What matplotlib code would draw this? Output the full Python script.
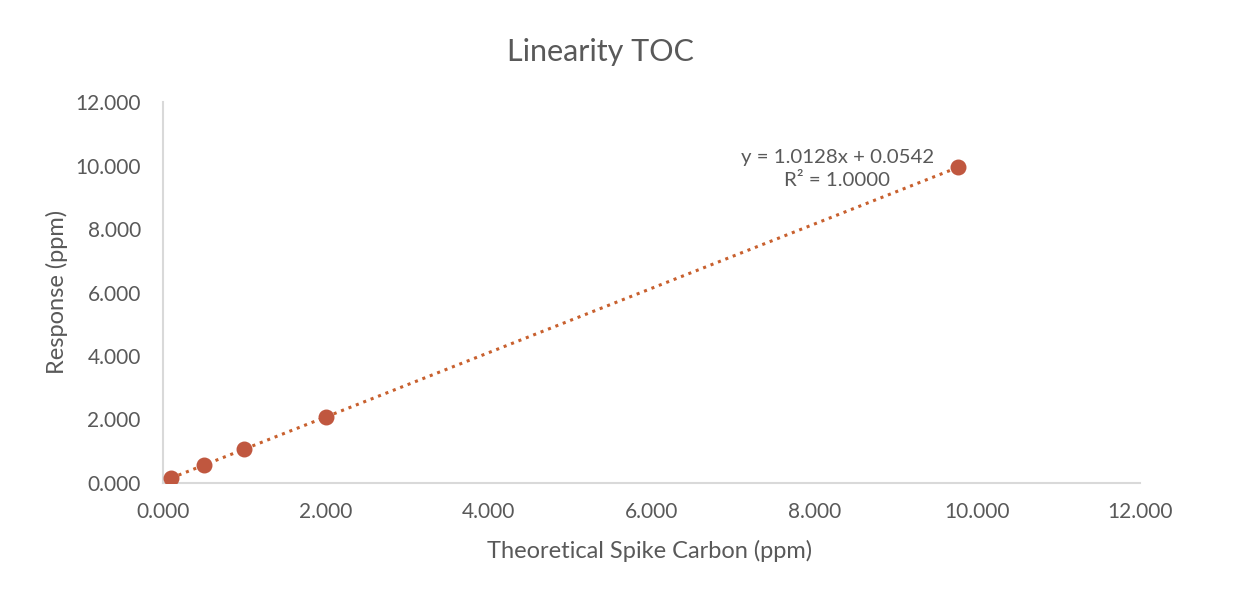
import numpy as np
import matplotlib
matplotlib.use("Agg")
import matplotlib.pyplot as plt
from matplotlib.ticker import FormatStrFormatter

# data
spike_carbon = [0.1, 0.5, 1.0, 2.0, 9.77]
response = [0.155, 0.56, 1.07, 2.08, 9.95]
slope, intercept = 1.0128, 0.0542
r_squared = 1.0000

plt.rcParams['font.family'] = ['Lato', 'DejaVu Sans']
text_col = '#595959'
point_col = '#C0573F'
line_col = '#C8602E'

fig = plt.figure(figsize=(12.35, 5.97), dpi=100)
ax = fig.add_axes([0.132, 0.191, 0.791, 0.638])

# trendline from the fitted equation
xs = np.array([min(spike_carbon), max(spike_carbon)])
ax.plot(xs, slope * xs + intercept, linestyle=(0, (1, 1.6)), color=line_col, lw=2.2, zorder=2)
ax.scatter(spike_carbon, response, s=110, color=point_col, zorder=3)

ax.set_xlim(0, 12)
ax.set_ylim(0, 12)
ax.set_xticks(np.arange(0, 13, 2))
ax.set_yticks(np.arange(0, 13, 2))
ax.xaxis.set_major_formatter(FormatStrFormatter('%.3f'))
ax.yaxis.set_major_formatter(FormatStrFormatter('%.3f'))
ax.tick_params(length=0, labelsize=15, colors=text_col)
ax.tick_params(axis='x', pad=14)
ax.tick_params(axis='y', pad=16)

for s in ['top', 'right']:
    ax.spines[s].set_visible(False)
for s in ['left', 'bottom']:
    ax.spines[s].set_color('#D9D9D9')
    ax.spines[s].set_linewidth(1.5)

fig.text(0.526, 0.077, 'Theoretical Spike Carbon (ppm)', ha='center', va='center',
         fontsize=17, color=text_col)
fig.text(0.046, 0.511, 'Response (ppm)', ha='center', va='center', rotation=90,
         fontsize=17, color=text_col)

fig.text(0.486, 0.913, 'Linearity TOC', ha='center', va='center', fontsize=22, color=text_col)

ax.text(8.28, 9.89, 'y = %.4fx + %.4f\nR² = %.4f' % (slope, intercept, r_squared),
        ha='center', va='center', fontsize=14.7, color=text_col, linespacing=1.37)

fig.savefig('out.png', dpi=100, facecolor='white')
